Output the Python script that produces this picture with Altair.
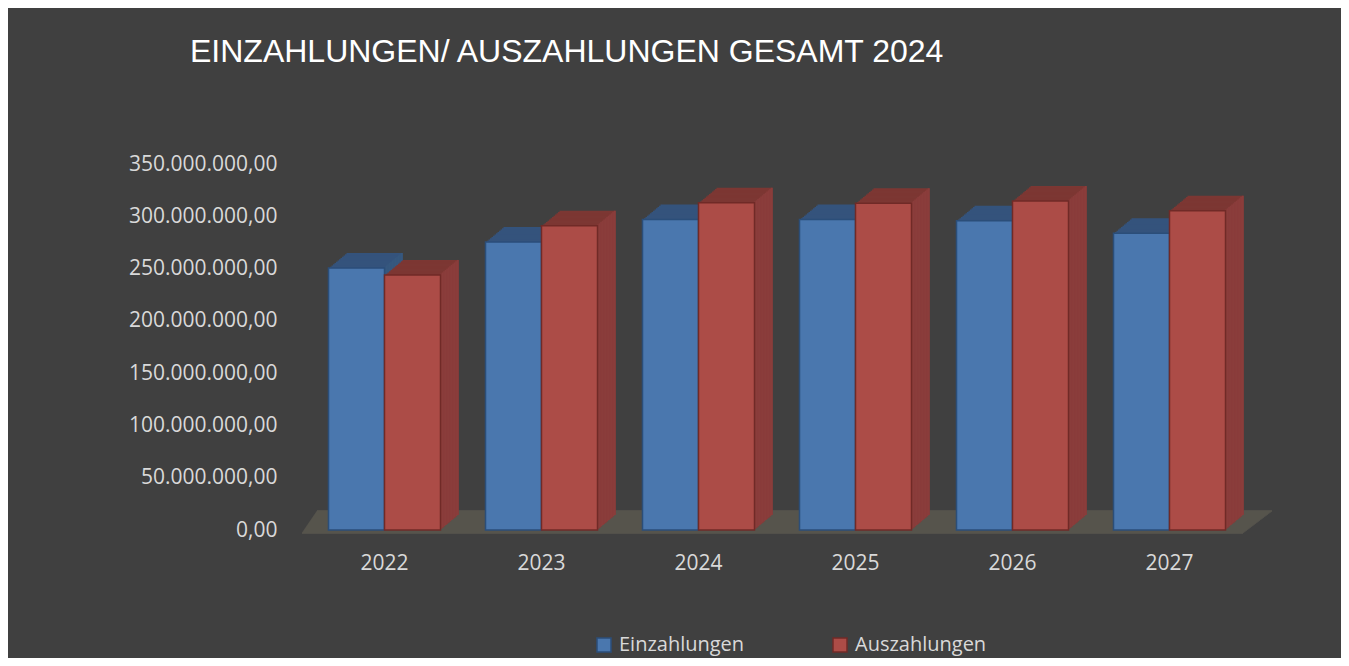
import altair as alt
import pandas as pd

# ---- data ----
years = ["2022", "2023", "2024", "2025", "2026", "2027"]
einzahlungen = [250.5e6, 275.4e6, 297.0e6, 297.0e6, 295.8e6, 283.7e6]
auszahlungen = [243.9e6, 291.0e6, 313.0e6, 312.4e6, 314.6e6, 305.3e6]
series = ["Einzahlungen", "Auszahlungen"]
y_ticks = [0, 50e6, 100e6, 150e6, 200e6, 250e6, 300e6, 350e6]
title_text = "EINZAHLUNGEN/ AUSZAHLUNGEN GESAMT 2024"

# ---- styling ----
W, H = 942, 366
BG = "#404040"
TXT = "#d9d9d9"
front_colors = ["#4a77ae", "#ac4c47"]
stroke_colors = ["#2b4e79", "#702a27"]
top_colors = ["#34537c", "#7c3733"]
side_colors = ["#36587f", "#8a3d3b"]
floor_color = "#58564e"
BAR_W = 56
DEPTH_X, DEPTH_Y, STEPS = 18.0, 15.0, 12
dxs, dys = DEPTH_X / STEPS, DEPTH_Y / STEPS

rows = []
for s, vals in zip(series, [einzahlungen, auszahlungen]):
    for yr, v in zip(years, vals):
        rows.append({"Jahr": yr, "Reihe": s, "Wert": v})
df = pd.DataFrame(rows)

x_enc = alt.X(
    "Jahr:N", sort=years,
    scale=alt.Scale(domain=years, paddingInner=0.287, paddingOuter=0.1435),
    axis=alt.Axis(title=None, labelAngle=0, domain=False, ticks=False, grid=False,
                  labelFont="Open Sans", labelFontSize=21, labelColor=TXT, labelPadding=22),
)
y_enc = alt.Y(
    "Wert:Q",
    scale=alt.Scale(domain=[0, 350e6], nice=False, zero=True),
    axis=alt.Axis(title=None, values=y_ticks, format=",.2f", domain=False, ticks=False, grid=False,
                  labelFont="Open Sans", labelFontSize=21, labelColor=TXT, labelPadding=29),
)

legend = alt.Legend(
    title=None, orient="none", legendX=288, legendY=471, direction="horizontal",
    symbolType="square", symbolSize=196, symbolStrokeWidth=1.5,
    labelFont="Open Sans", labelFontSize=20, labelColor=TXT, labelOffset=5,
    columnPadding=85, padding=0,
)

# floor (decorative parallelogram made of 1px rows)
floor_rows = []
n_rows = 22
for j in range(n_rows + 1):
    floor_rows.append({
        "fy": H + 3 - j,
        "fx1": -4 + j * 15.0 / n_rows,
        "fx2": W - 5 + j * 29.0 / n_rows,
    })
floor_df = pd.DataFrame(floor_rows)
floor = alt.Chart(floor_df).mark_rule(color=floor_color, strokeWidth=1.3).encode(
    x=alt.X("fx1:Q", scale=None, axis=None),
    x2="fx2:Q",
    y=alt.Y("fy:Q", scale=None, axis=None),
)

layers = [floor]
for i, s in enumerate(series):
    base = alt.Chart(df).transform_filter(alt.datum.Reihe == s)
    center = -BAR_W / 2 if i == 0 else BAR_W / 2
    # top face: stacked shifted copies
    for k in range(STEPS, 0, -1):
        layers.append(
            base.mark_bar(width=BAR_W, color=top_colors[i],
                          xOffset=center + k * dxs, x2Offset=center + k * dxs,
                          yOffset=-k * dys, y2Offset=-k * dys).encode(x=x_enc, y=y_enc)
        )
    # side face: thin strips
    for k in range(1, STEPS + 1):
        off = center + BAR_W / 2 + (k - 0.5) * dxs
        layers.append(
            base.mark_bar(width=dxs + 0.6, color=side_colors[i],
                          xOffset=off, x2Offset=off,
                          yOffset=-k * dys, y2Offset=-k * dys).encode(x=x_enc, y=y_enc)
        )
    # front face
    layers.append(
        base.mark_bar(width=BAR_W, xOffset=center, x2Offset=center, strokeWidth=1.5).encode(
            x=x_enc, y=y_enc,
            fill=alt.Fill("Reihe:N", sort=series,
                          scale=alt.Scale(domain=series, range=front_colors), legend=legend),
            stroke=alt.Stroke("Reihe:N", sort=series,
                              scale=alt.Scale(domain=series, range=stroke_colors), legend=legend),
        )
    )

chart = alt.layer(*layers).properties(
    width=W, height=H,
    padding={"left": 298, "top": 156, "right": 93, "bottom": 128},
    autosize=alt.AutoSizeParams(type="none"),
    background=BG,
    title=alt.TitleParams(
        text=title_text, anchor="start", frame="group", dx=-116, dy=-59, offset=0,
        baseline="alphabetic", font="Liberation Sans", fontSize=32, fontWeight="normal",
        color="#ffffff",
    ),
).configure(
    locale={"number": {"decimal": ",", "thousands": ".", "grouping": [3], "currency": ["", " €"]}}
).configure_view(stroke=None)

chart.save("out.html", embed_options={"renderer": "svg", "actions": False})
